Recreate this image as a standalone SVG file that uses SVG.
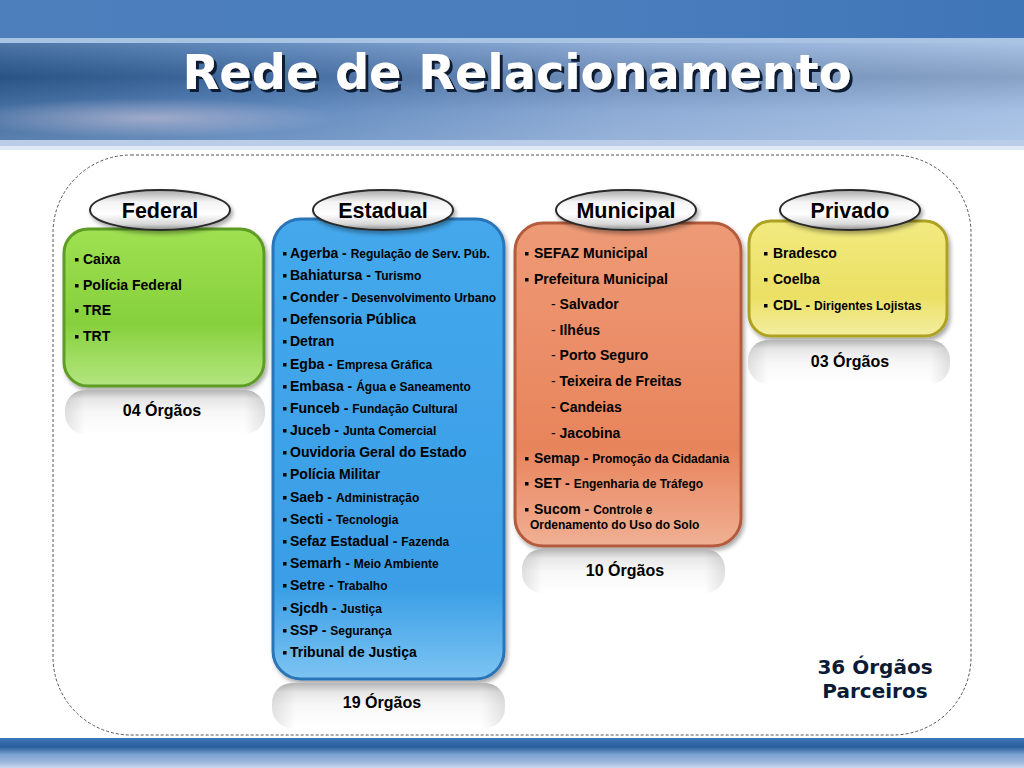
<svg xmlns="http://www.w3.org/2000/svg" width="1024" height="768" viewBox="0 0 1024 768">
<defs>
  <linearGradient id="hdrTop" x1="0" y1="0" x2="1" y2="0">
    <stop offset="0" stop-color="#4d7fbd"/>
    <stop offset="0.6" stop-color="#4a7dbc"/>
    <stop offset="1" stop-color="#3f76b8"/>
  </linearGradient>
  <linearGradient id="hdrMid" x1="0" y1="0" x2="1" y2="0">
    <stop offset="0" stop-color="#2f5f98"/>
    <stop offset="0.25" stop-color="#4a79b4"/>
    <stop offset="0.6" stop-color="#7d9fcf"/>
    <stop offset="1" stop-color="#9ab8e0"/>
  </linearGradient>
  <linearGradient id="hdrV" x1="0" y1="0" x2="0" y2="1">
    <stop offset="0" stop-color="#ffffff" stop-opacity="0.15"/>
    <stop offset="0.35" stop-color="#000000" stop-opacity="0.12"/>
    <stop offset="0.7" stop-color="#ffffff" stop-opacity="0.12"/>
    <stop offset="1" stop-color="#ffffff" stop-opacity="0.2"/>
  </linearGradient>
  <radialGradient id="pinkGlow" cx="0.5" cy="0.5" r="0.5">
    <stop offset="0" stop-color="#e6d2e0" stop-opacity="0.5"/>
    <stop offset="1" stop-color="#e6d2e0" stop-opacity="0"/>
  </radialGradient>
  <linearGradient id="botBand" x1="0" y1="0" x2="0" y2="1">
    <stop offset="0" stop-color="#3f77bb"/>
    <stop offset="0.3" stop-color="#2a5f9c"/>
    <stop offset="0.55" stop-color="#7aa0d0"/>
    <stop offset="0.8" stop-color="#9cb6dc"/>
    <stop offset="1" stop-color="#c9d7ec"/>
  </linearGradient>
  <linearGradient id="pill" x1="0" y1="0" x2="0" y2="1">
    <stop offset="0" stop-color="#a8a8a8"/>
    <stop offset="0.3" stop-color="#f4f4f4"/>
    <stop offset="0.6" stop-color="#ffffff"/>
    <stop offset="0.85" stop-color="#d8d8d8"/>
    <stop offset="1" stop-color="#8c8c8c"/>
  </linearGradient>
  <linearGradient id="cnt" x1="0" y1="0" x2="0" y2="1">
    <stop offset="0" stop-color="#b4b4b4"/>
    <stop offset="0.2" stop-color="#e6e6e6"/>
    <stop offset="0.5" stop-color="#f7f7f7"/>
    <stop offset="1" stop-color="#ffffff"/>
  </linearGradient>
  <linearGradient id="cntSide" x1="0" y1="0" x2="1" y2="0">
    <stop offset="0" stop-color="#000" stop-opacity="0.1"/>
    <stop offset="0.1" stop-color="#000" stop-opacity="0"/>
    <stop offset="0.9" stop-color="#000" stop-opacity="0"/>
    <stop offset="1" stop-color="#000" stop-opacity="0.1"/>
  </linearGradient>
  <linearGradient id="green" x1="0" y1="0" x2="0" y2="1">
    <stop offset="0" stop-color="#9fe052"/>
    <stop offset="0.6" stop-color="#86d03c"/>
    <stop offset="1" stop-color="#b4e680"/>
  </linearGradient>
  <linearGradient id="blue" x1="0" y1="0" x2="0" y2="1">
    <stop offset="0" stop-color="#44a8ec"/>
    <stop offset="0.8" stop-color="#3a9ee6"/>
    <stop offset="1" stop-color="#7cc4f2"/>
  </linearGradient>
  <linearGradient id="orange" x1="0" y1="0" x2="0" y2="1">
    <stop offset="0" stop-color="#ee9a76"/>
    <stop offset="0.7" stop-color="#e8845c"/>
    <stop offset="1" stop-color="#f0b094"/>
  </linearGradient>
  <linearGradient id="yellow" x1="0" y1="0" x2="0" y2="1">
    <stop offset="0" stop-color="#f2ea80"/>
    <stop offset="0.65" stop-color="#ebe064"/>
    <stop offset="1" stop-color="#f4eea0"/>
  </linearGradient>
  <filter id="sh" x="-10%" y="-10%" width="130%" height="130%">
    <feDropShadow dx="2" dy="3" stdDeviation="2" flood-color="#000" flood-opacity="0.35"/>
  </filter>
  <filter id="tsh" x="-5%" y="-20%" width="110%" height="150%">
    <feDropShadow dx="3" dy="3" stdDeviation="0.6" flood-color="#0a1a33" flood-opacity="1"/>
  </filter>
</defs>
<style>
  .t{font-family:"Liberation Sans",Arial,sans-serif;font-weight:bold;fill:#000;font-size:14px}
  .s{font-size:12px}
  .hd{font-family:"Liberation Sans",Arial,sans-serif;font-weight:bold;fill:#000;font-size:21.5px;text-anchor:middle}
  .cn{font-family:"Liberation Sans",Arial,sans-serif;font-weight:bold;fill:#000;font-size:16px;text-anchor:middle}
  .b{fill:#000}
  .pl{fill:url(#pill);stroke:#2a2a2a;stroke-width:2}
  .cr{fill:url(#cnt)}
  .cs{fill:url(#cntSide)}
</style>

<!-- header -->
<rect x="0" y="0" width="1024" height="40" fill="url(#hdrTop)"/>
<rect x="0" y="38" width="1024" height="5" fill="#a9c3e3"/>
<rect x="0" y="43" width="1024" height="98" fill="url(#hdrMid)"/>
<rect x="0" y="43" width="1024" height="98" fill="url(#hdrV)"/>
<ellipse cx="150" cy="118" rx="190" ry="20" fill="url(#pinkGlow)"/>
<rect x="0" y="140" width="1024" height="6" fill="#b9cde8"/>
<rect x="0" y="146" width="1024" height="4" fill="#dfe8f4"/>
<text x="517" y="89" text-anchor="middle" font-family="'DejaVu Sans Condensed','DejaVu Sans',sans-serif" font-weight="bold" font-size="48" fill="#ffffff" textLength="669" lengthAdjust="spacingAndGlyphs" filter="url(#tsh)">Rede de Relacionamento</text>

<!-- bottom band -->
<rect x="0" y="738" width="1024" height="30" fill="url(#botBand)"/>

<!-- dashed frame -->
<rect x="53" y="155" width="918" height="580" rx="78" ry="78" fill="none" stroke="#555" stroke-width="1" stroke-dasharray="3,2"/>

<g id="connectors"/>

<!-- Federal -->
<g id="federal">
  <rect x="64" y="229" width="200" height="157" rx="24" fill="url(#green)" stroke="#5e9c26" stroke-width="3" filter="url(#sh)"/>
  <ellipse cx="160" cy="210" rx="70" ry="20" class="pl" filter="url(#sh)"/>
  <text x="160" y="218" class="hd">Federal</text>
  <rect x="75" y="258" width="3.5" height="3.5" class="b"/><text x="83" y="264" class="t">Caixa</text>
  <rect x="75" y="284" width="3.5" height="3.5" class="b"/><text x="83" y="290" class="t">Polícia Federal</text>
  <rect x="75" y="309" width="3.5" height="3.5" class="b"/><text x="83" y="315" class="t">TRE</text>
  <rect x="75" y="335" width="3.5" height="3.5" class="b"/><text x="83" y="341" class="t">TRT</text>
  <rect x="65" y="390" width="200" height="44" rx="20" class="cr"/>
  <rect x="65" y="390" width="200" height="44" rx="20" class="cs"/>
  <text x="162" y="416" class="cn">04 Órgãos</text>
</g>

<!-- Estadual -->
<g id="estadual">
  <rect x="273" y="219" width="231" height="460" rx="28" fill="url(#blue)" stroke="#2c74b8" stroke-width="3" filter="url(#sh)"/>
  <ellipse cx="383" cy="210" rx="70" ry="20" class="pl" filter="url(#sh)"/>
  <text x="383" y="218" class="hd">Estadual</text>
  <g>
    <rect x="283" y="252" width="3.5" height="3.5" class="b"/><text x="290" y="258" class="t">Agerba - <tspan class="s">Regulação de Serv. Púb.</tspan></text>
    <rect x="283" y="274" width="3.5" height="3.5" class="b"/><text x="290" y="280" class="t">Bahiatursa - <tspan class="s">Turismo</tspan></text>
    <rect x="283" y="296" width="3.5" height="3.5" class="b"/><text x="290" y="302" class="t">Conder - <tspan class="s">Desenvolvimento Urbano</tspan></text>
    <rect x="283" y="318" width="3.5" height="3.5" class="b"/><text x="290" y="324" class="t">Defensoria Pública</text>
    <rect x="283" y="340" width="3.5" height="3.5" class="b"/><text x="290" y="346" class="t">Detran</text>
    <rect x="283" y="363" width="3.5" height="3.5" class="b"/><text x="290" y="369" class="t">Egba - <tspan class="s">Empresa Gráfica</tspan></text>
    <rect x="283" y="385" width="3.5" height="3.5" class="b"/><text x="290" y="391" class="t">Embasa - <tspan class="s">Água e Saneamento</tspan></text>
    <rect x="283" y="407" width="3.5" height="3.5" class="b"/><text x="290" y="413" class="t">Funceb - <tspan class="s">Fundação Cultural</tspan></text>
    <rect x="283" y="429" width="3.5" height="3.5" class="b"/><text x="290" y="435" class="t">Juceb - <tspan class="s">Junta Comercial</tspan></text>
    <rect x="283" y="451" width="3.5" height="3.5" class="b"/><text x="290" y="457" class="t">Ouvidoria Geral do Estado</text>
    <rect x="283" y="473" width="3.5" height="3.5" class="b"/><text x="290" y="479" class="t">Polícia Militar</text>
    <rect x="283" y="496" width="3.5" height="3.5" class="b"/><text x="290" y="502" class="t">Saeb - <tspan class="s">Administração</tspan></text>
    <rect x="283" y="518" width="3.5" height="3.5" class="b"/><text x="290" y="524" class="t">Secti - <tspan class="s">Tecnologia</tspan></text>
    <rect x="283" y="540" width="3.5" height="3.5" class="b"/><text x="290" y="546" class="t">Sefaz Estadual - <tspan class="s">Fazenda</tspan></text>
    <rect x="283" y="562" width="3.5" height="3.5" class="b"/><text x="290" y="568" class="t">Semarh - <tspan class="s">Meio Ambiente</tspan></text>
    <rect x="283" y="584" width="3.5" height="3.5" class="b"/><text x="290" y="590" class="t">Setre - <tspan class="s">Trabalho</tspan></text>
    <rect x="283" y="607" width="3.5" height="3.5" class="b"/><text x="290" y="613" class="t">Sjcdh - <tspan class="s">Justiça</tspan></text>
    <rect x="283" y="629" width="3.5" height="3.5" class="b"/><text x="290" y="635" class="t">SSP - <tspan class="s">Segurança</tspan></text>
    <rect x="283" y="651" width="3.5" height="3.5" class="b"/><text x="290" y="657" class="t">Tribunal de Justiça</text>
  </g>
  <rect x="272" y="683" width="233" height="45" rx="20" class="cr"/>
  <rect x="272" y="683" width="233" height="45" rx="20" class="cs"/>
  <text x="382" y="708" class="cn">19 Órgãos</text>
</g>

<!-- Municipal -->
<g id="municipal">
  <rect x="515" y="223" width="226" height="323" rx="28" fill="url(#orange)" stroke="#b45a3c" stroke-width="3" filter="url(#sh)"/>
  <ellipse cx="626" cy="210" rx="70" ry="20" class="pl" filter="url(#sh)"/>
  <text x="626" y="218" class="hd">Municipal</text>
  <rect x="525" y="252" width="3.5" height="3.5" class="b"/><text x="534" y="258" class="t">SEFAZ Municipal</text>
  <rect x="525" y="278" width="3.5" height="3.5" class="b"/><text x="534" y="284" class="t">Prefeitura Municipal</text>
  <text x="551" y="309" class="t"><tspan font-weight="normal">- </tspan>Salvador</text>
  <text x="551" y="335" class="t"><tspan font-weight="normal">- </tspan>Ilhéus</text>
  <text x="551" y="360" class="t"><tspan font-weight="normal">- </tspan>Porto Seguro</text>
  <text x="551" y="386" class="t"><tspan font-weight="normal">- </tspan>Teixeira de Freitas</text>
  <text x="551" y="412" class="t"><tspan font-weight="normal">- </tspan>Candeias</text>
  <text x="551" y="438" class="t"><tspan font-weight="normal">- </tspan>Jacobina</text>
  <rect x="525" y="457" width="3.5" height="3.5" class="b"/><text x="534" y="463" class="t">Semap - <tspan class="s">Promoção da Cidadania</tspan></text>
  <rect x="525" y="482" width="3.5" height="3.5" class="b"/><text x="534" y="488" class="t">SET - <tspan class="s">Engenharia de Tráfego</tspan></text>
  <rect x="525" y="508" width="3.5" height="3.5" class="b"/><text x="534" y="514" class="t">Sucom - <tspan class="s">Controle e</tspan></text>
  <text x="530" y="529" class="t s">Ordenamento do Uso do Solo</text>
  <rect x="522" y="549" width="203" height="44" rx="20" class="cr"/>
  <rect x="522" y="549" width="203" height="44" rx="20" class="cs"/>
  <text x="625" y="576" class="cn">10 Órgãos</text>
</g>

<!-- Privado -->
<g id="privado">
  <rect x="749" y="221" width="198" height="115" rx="22" fill="url(#yellow)" stroke="#aea224" stroke-width="3" filter="url(#sh)"/>
  <ellipse cx="850" cy="210" rx="70" ry="20" class="pl" filter="url(#sh)"/>
  <text x="850" y="218" class="hd">Privado</text>
  <rect x="764" y="252" width="3.5" height="3.5" class="b"/><text x="773" y="258" class="t">Bradesco</text>
  <rect x="764" y="278" width="3.5" height="3.5" class="b"/><text x="773" y="284" class="t">Coelba</text>
  <rect x="764" y="304" width="3.5" height="3.5" class="b"/><text x="773" y="310" class="t">CDL - <tspan class="s">Dirigentes Lojistas</tspan></text>
  <rect x="748" y="340" width="202" height="44" rx="20" class="cr"/>
  <rect x="748" y="340" width="202" height="44" rx="20" class="cs"/>
  <text x="850" y="367" class="cn">03 Órgãos</text>
</g>

<!-- total -->
<g id="total">
  <text x="875" y="674" text-anchor="middle" font-family="'DejaVu Sans',Verdana,sans-serif" font-weight="bold" font-size="20" fill="#0b1a36">36 Órgãos</text>
  <text x="875" y="698" text-anchor="middle" font-family="'DejaVu Sans',Verdana,sans-serif" font-weight="bold" font-size="20" fill="#0b1a36">Parceiros</text>
</g>
</svg>
